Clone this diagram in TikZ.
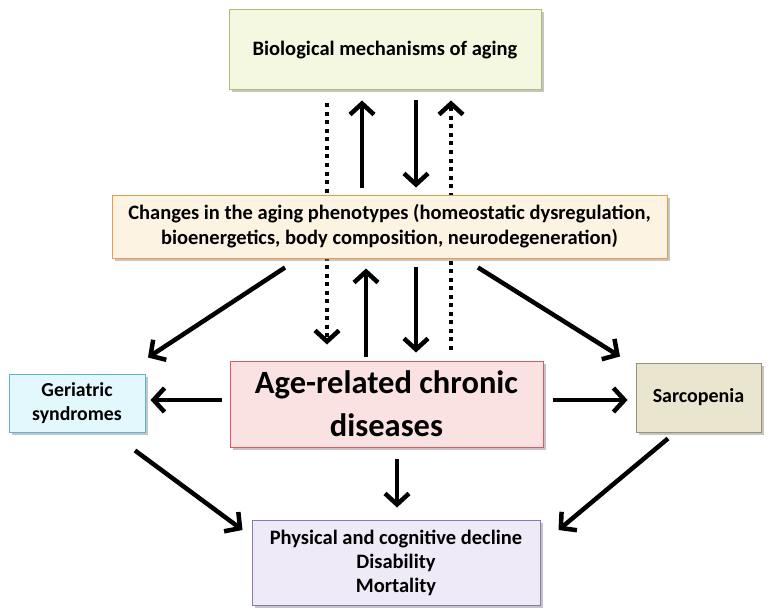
\documentclass[tikz,border=0pt]{standalone}
\usepackage{fontspec}
\setmainfont{Carlito}
\usepackage{tikz}
\usetikzlibrary{arrows.meta,shadows,backgrounds}
\definecolor{biofill}{HTML}{F5F8E0}
\definecolor{bioline}{HTML}{A9C16E}
\definecolor{phenofill}{HTML}{FDF3E2}
\definecolor{phenoline}{HTML}{F0994A}
\definecolor{gerifill}{HTML}{E3F8FC}
\definecolor{geriline}{HTML}{5AB6D0}
\definecolor{chronfill}{HTML}{FBE2E2}
\definecolor{chronline}{HTML}{E0595B}
\definecolor{sarcofill}{HTML}{EAE5CF}
\definecolor{sarcoline}{HTML}{9A9070}
\definecolor{declfill}{HTML}{EEEAF8}
\definecolor{declline}{HTML}{8E78B0}

\begin{document}
\begin{tikzpicture}[x=1pt, y=-1pt,
        box/.style={rectangle, draw=#1line, fill=#1fill, line width=1pt,
        align=center, font=\bfseries, inner sep=2pt,
        drop shadow={shadow xshift=2.5pt, shadow yshift=-2.5pt, fill=black!45}},
        arr/.style={-{Straight Barb[length=11pt, width=24pt, line width=4.5pt]}, line width=4.5pt},
        dotarr/.style={arr, line width=4pt, dash pattern=on 4pt off 4.5pt},
      ]
      \useasboundingbox (0,0) rectangle (771,615);

      \node[box=bio, minimum width=312pt, minimum height=80pt,
      font=\bfseries\fontsize{20.5}{24}\selectfont] (bio) at (385,50)
      {Biological mechanisms of aging};
      \node[box=pheno, minimum width=555pt, minimum height=63pt,
      font=\bfseries\fontsize{20.5}{25}\selectfont] (pheno) at (389.5,226.5)
      {Changes in the aging phenotypes (homeostatic dysregulation,\\
      bioenergetics, body composition, neurodegeneration)};
      \node[box=geri, minimum width=136pt, minimum height=58pt,
      font=\bfseries\fontsize{19.8}{24}\selectfont] (geri) at (77,403)
      {Geriatric\\syndromes};
      \node[box=chron, minimum width=313pt, minimum height=86pt,
      font=\bfseries\fontsize{32.5}{43}\selectfont] (chronic) at (386.5,404)
      {Age-related chronic\\diseases};
      \node[box=sarco, minimum width=125pt, minimum height=69pt,
      font=\bfseries\fontsize{20}{24}\selectfont] (sarco) at (698.5,397.5)
      {Sarcopenia};
      \node[box=decl, minimum width=288pt, minimum height=85pt,
      font=\bfseries\fontsize{20.5}{24}\selectfont] (decline) at (396,562.5)
      {Physical and cognitive decline\\Disability\\Mortality};

      % dotted links run behind the phenotype box
      \begin{scope}[on background layer]
        \draw[dotarr, shorten <=13pt, shorten >=16pt]
        ([xshift=-58pt]bio.south) -- ([xshift=-59.5pt]chronic.north);
        \draw[dotarr, shorten <=11pt, shorten >=10pt]
        ([xshift=64.5pt]chronic.north) -- ([xshift=66pt]bio.south);
      \end{scope}

      \draw[arr, shorten <=7pt, shorten >=10pt]
      ([xshift=-27.5pt]pheno.north) -- ([xshift=-23pt]bio.south);
      \draw[arr, shorten <=10pt, shorten >=7pt]
      ([xshift=31pt]bio.south) -- ([xshift=26.5pt]pheno.north);

      \draw[arr, shorten <=4pt, shorten >=10pt]
      ([xshift=-20.5pt]chronic.north) -- ([xshift=-23.5pt]pheno.south);
      \draw[arr, shorten <=8pt, shorten >=8pt]
      ([xshift=26.5pt]pheno.south) -- ([xshift=29.5pt]chronic.north);

      \draw[arr] ([xshift=-104.5pt, yshift=-9pt]pheno.south)
      -- ([xshift=71pt, yshift=16pt]geri.north);
      \draw[arr] ([xshift=88.5pt, yshift=-9pt]pheno.south)
      -- ([xshift=-78.5pt, yshift=6pt]sarco.north);

      \draw[arr, shorten <=8pt, shorten >=5pt]
      ([yshift=4pt]chronic.west) -- ([yshift=3pt]geri.east);
      \draw[arr, shorten <=9pt, shorten >=8pt]
      ([yshift=4pt]chronic.east) -- ([yshift=-2.5pt]sarco.west);
      \draw[arr, shorten <=11pt, shorten >=12pt]
      ([xshift=10.5pt]chronic.south) -- ([xshift=1pt]decline.north);

      \draw[arr] ([xshift=58pt, yshift=-18pt]geri.south)
      -- ([xshift=-9pt, yshift=32.5pt]decline.west);
      \draw[arr] ([xshift=-30.5pt, yshift=-6pt]sarco.south)
      -- ([xshift=18pt, yshift=32.5pt]decline.east);
    \end{tikzpicture}
\end{document}
